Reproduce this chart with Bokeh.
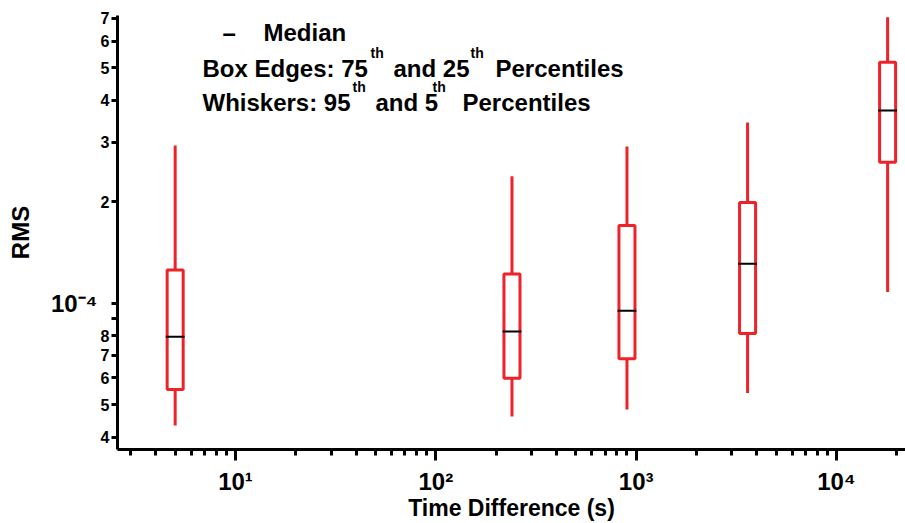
from bokeh.plotting import figure
from bokeh.models import Range1d, FixedTicker, Label, LogAxis
from bokeh.embed import file_html
from bokeh.resources import INLINE

# ---- data ----
times = [5, 240, 900, 3600, 18000]          # time difference (s)
p05 = [4.33e-5, 4.61e-5, 4.83e-5, 5.41e-5, 1.08e-4]
q25 = [5.54e-5, 5.98e-5, 6.84e-5, 8.13e-5, 2.62e-4]
med = [7.95e-5, 8.24e-5, 9.49e-5, 1.31e-4, 3.73e-4]
q75 = [1.255e-4, 1.22e-4, 1.70e-4, 1.99e-4, 5.19e-4]
p95 = [2.94e-4, 2.38e-4, 2.92e-4, 3.44e-4, 7.06e-4]

x_decades = [10, 100, 1000, 10000]
x_decade_labels = ["10\u00b9", "10\u00b2", "10\u00b3", "10\u2074"]
y_ticks = [4e-5, 5e-5, 6e-5, 7e-5, 8e-5, 9e-5, 1e-4, 2e-4, 3e-4, 4e-4, 5e-4, 6e-4, 7e-4]
y_tick_labels = ["4", "5", "6", "7", "8", "", "", "2", "3", "4", "5", "6", "7"]
y_decade = [1e-4]
y_decade_label = ["10\u207b\u2074"]

# ---- layout ----
W, H = 905, 523
FL, FT, FR, FB = 117, 15, 905, 450
X_START, X_END = 2.577, 22110.0
Y_START, Y_END = 3.677e-5, 7.145e-4
RED = "#ee2229"
FONT = "Liberation Sans"

def xd(px):
    return X_START * (X_END / X_START) ** ((px - FL) / (FR - FL))

def yd(py):
    return Y_END * (Y_START / Y_END) ** ((py - FT) / (FB - FT))

p = figure(width=W, height=H, x_axis_type="log", y_axis_type="log",
           x_range=Range1d(X_START, X_END), y_range=Range1d(Y_START, Y_END),
           output_backend="svg", toolbar_location=None,
           min_border_left=FL, min_border_right=0, min_border_top=FT,
           min_border_bottom=H - FB)
p.outline_line_color = None
p.xgrid.visible = False
p.ygrid.visible = False
p.background_fill_color = "white"
p.border_fill_color = "white"

half = 10 ** 0.04
mhalf = 10 ** 0.047
left = [t / half for t in times]
right = [t * half for t in times]
mleft = [t / mhalf for t in times]
mright = [t * mhalf for t in times]

p.segment(x0=times, y0=p05, x1=times, y1=q25, line_color=RED, line_width=3)
p.segment(x0=times, y0=q75, x1=times, y1=p95, line_color=RED, line_width=3)
p.quad(left=left, right=right, bottom=q25, top=q75, fill_color="white",
       line_color=RED, line_width=3)
p.segment(x0=mleft, y0=med, x1=mright, y1=med, line_color="black", line_width=2)

# ---- axes ----
minors = [m * 10 ** k for k in range(0, 5) for m in range(2, 10)]
xa = p.xaxis[0]
xa.ticker = FixedTicker(ticks=x_decades, minor_ticks=minors)
xa.major_label_overrides = dict(zip(x_decades, x_decade_labels))
xa.major_label_text_font = FONT
xa.major_label_text_font_style = "bold"
xa.major_label_text_font_size = "24px"
xa.major_label_text_color = "black"
xa.major_label_standoff = 7
xa.axis_line_width = 3
xa.major_tick_line_width = 3
xa.minor_tick_line_width = 3
xa.major_tick_out = 11
xa.major_tick_in = 0
xa.minor_tick_out = 6
xa.minor_tick_in = 0
xa.axis_label = "Time Difference (s)"
xa.axis_label_text_font = FONT
xa.axis_label_text_font_style = "bold"
xa.axis_label_text_font_size = "23px"
xa.axis_label_text_color = "black"
xa.axis_label_standoff = -3

ya = p.yaxis[0]
ya.ticker = FixedTicker(ticks=y_ticks)
ya.major_label_overrides = dict(zip(y_ticks, y_tick_labels))
ya.axis_line_width = 3
ya.major_tick_line_width = 3
ya.major_tick_out = 6
ya.major_tick_in = 0
ya.minor_tick_out = 0
ya.minor_tick_in = 0
ya.major_label_standoff = 2
ya.major_label_text_font = FONT
ya.major_label_text_font_style = "bold"
ya.major_label_text_font_size = "16px"
ya.major_label_text_color = "black"

# outer left axis: only the decade label 10^-4 and the axis title
ya2 = LogAxis(ticker=FixedTicker(ticks=y_decade),
              major_label_overrides=dict(zip(y_decade, y_decade_label)),
              axis_line_color=None, major_tick_line_color=None,
              minor_tick_line_color=None, major_tick_out=0, major_tick_in=0,
              major_label_standoff=0,
              major_label_text_font=FONT, major_label_text_font_style="bold",
              major_label_text_font_size="24px", major_label_text_color="black",
              axis_label="RMS", axis_label_text_font=FONT,
              axis_label_text_font_style="bold", axis_label_text_font_size="24px",
              axis_label_text_color="black", axis_label_standoff=14)
p.add_layout(ya2, "left")

def lab(x, y, text, size, align="left", baseline="alphabetic"):
    p.add_layout(Label(x=x, y=y, text=text, text_font=FONT, text_font_style="bold",
                       text_font_size=size, text_align=align, text_baseline=baseline,
                       text_color="black"))

# ---- legend text ----
lab(xd(222), yd(31.7), "\u2013", "24px")
lab(xd(263), yd(31.7), "Median", "24px")
lab(xd(202), yd(68.3), "Box Edges: 75", "24px")
lab(xd(370), yd(53), "th", "14px")
lab(xd(393), yd(68.3), "and 25", "24px")
lab(xd(470), yd(53), "th", "14px")
lab(xd(495), yd(68.3), "Percentiles", "24px")
lab(xd(202), yd(101.7), "Whiskers: 95", "24px")
lab(xd(352), yd(86.5), "th", "14px")
lab(xd(375), yd(101.7), "and 5", "24px")
lab(xd(432), yd(86.5), "th", "14px")
lab(xd(462), yd(101.7), "Percentiles", "24px")

open("out.html", "w").write(file_html(p, INLINE))
